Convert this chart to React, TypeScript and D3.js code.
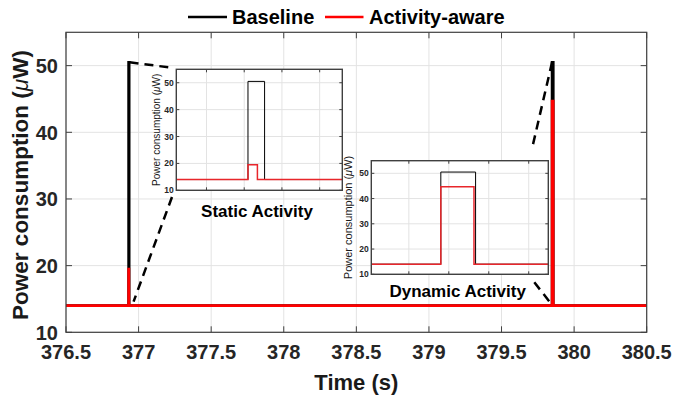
import React, { useEffect, useRef } from 'react'
import * as d3 from 'd3'

// step data (value holds until next time stamp)
const baselineTime = [376.5, 376.931, 376.9354, 379.848, 379.8567, 380.5]
const baselinePower = [14, 50.5, 14, 50.5, 14, 14]
const awareTime = [376.5, 376.931, 376.9335, 379.848, 379.8563, 380.5]
const awarePower = [14, 19.5, 14, 44.7, 14, 14]

const mainXTicks = [376.5, 377, 377.5, 378, 378.5, 379, 379.5, 380, 380.5]
const yTicks = [10, 20, 30, 40, 50]
const yDomain = [10, 55]

const staticDomain = [376.912, 376.956]
const staticTicks = [376.92, 376.93, 376.94, 376.95]
const dynamicDomain = [379.8306, 379.8749]
const dynamicTicks = [379.84, 379.85, 379.86, 379.87]

const FONT = "'Liberation Sans', Arial, Helvetica, sans-serif"
const AXIS = '#404040'
const GRID = '#e3e3e3'

const drawPanel = (g, xScale, yScale, xTicks, opts) => {
    const [x0, x1] = xScale.range()
    const [y0, y1] = yScale.range() // y0 bottom, y1 top

    g.append('rect')
        .attr('x', x0).attr('y', y1)
        .attr('width', x1 - x0).attr('height', y0 - y1)
        .attr('fill', 'white')

    // grid
    g.append('g').selectAll('line.gx')
        .data(xTicks)
        .join('line')
        .attr('x1', d => xScale(d)).attr('x2', d => xScale(d))
        .attr('y1', y0).attr('y2', y1)
        .attr('stroke', GRID).attr('stroke-width', 1)
    g.append('g').selectAll('line.gy')
        .data(yTicks)
        .join('line')
        .attr('y1', d => yScale(d)).attr('y2', d => yScale(d))
        .attr('x1', x0).attr('x2', x1)
        .attr('stroke', GRID).attr('stroke-width', 1)

    const clipId = opts.id + '_clip'
    g.append('clipPath').attr('id', clipId)
        .append('rect')
        .attr('x', x0).attr('y', y1)
        .attr('width', x1 - x0).attr('height', y0 - y1)

    const line = (times, values) => d3.line()
        .x(i => xScale(times[i]))
        .y(i => yScale(values[i]))
        .curve(d3.curveStepAfter)(d3.range(times.length))

    const lines = g.append('g').attr('clip-path', 'url(#' + clipId + ')')
    lines.append('path')
        .attr('d', line(baselineTime, baselinePower))
        .attr('fill', 'none').attr('stroke', 'black')
        .attr('stroke-width', opts.lineWidth)
    lines.append('path')
        .attr('d', line(awareTime, awarePower))
        .attr('fill', 'none').attr('stroke', opts.red)
        .attr('stroke-width', opts.lineWidth * opts.redScale)

    // box + inward ticks
    const tl = opts.tickLen
    const ticks = g.append('g').attr('stroke', AXIS).attr('stroke-width', 1)
    xTicks.forEach(t => {
        ticks.append('line').attr('x1', xScale(t)).attr('x2', xScale(t)).attr('y1', y0).attr('y2', y0 - tl)
        ticks.append('line').attr('x1', xScale(t)).attr('x2', xScale(t)).attr('y1', y1).attr('y2', y1 + tl)
    })
    yTicks.forEach(t => {
        ticks.append('line').attr('y1', yScale(t)).attr('y2', yScale(t)).attr('x1', x0).attr('x2', x0 + tl)
        ticks.append('line').attr('y1', yScale(t)).attr('y2', yScale(t)).attr('x1', x1).attr('x2', x1 - tl)
    })
    g.append('rect')
        .attr('x', x0).attr('y', y1)
        .attr('width', x1 - x0).attr('height', y0 - y1)
        .attr('fill', 'none').attr('stroke', AXIS).attr('stroke-width', opts.boxWidth)

    // y tick labels
    g.append('g').selectAll('text')
        .data(yTicks)
        .join('text')
        .attr('x', x0 - opts.yLabelGap)
        .attr('y', d => yScale(d))
        .attr('dy', '0.36em')
        .attr('text-anchor', 'end')
        .attr('font-family', FONT)
        .attr('font-weight', 'bold')
        .attr('font-size', opts.tickFont)
        .attr('fill', '#262626')
        .text(d => d)
}

const addYTitle = (g, x, y, size, weight) => {
    const t = g.append('text')
        .attr('transform', 'translate(' + x + ',' + y + ') rotate(-90)')
        .attr('text-anchor', 'middle')
        .attr('font-family', FONT)
        .attr('font-weight', weight)
        .attr('font-size', size)
        .attr('fill', '#1a1a1a')
    t.append('tspan').text('Power consumption (')
    t.append('tspan').attr('font-style', 'italic').attr('font-weight', 'normal').text('\u03bc')
    t.append('tspan').text('W)')
}

const App = () => {
    const ref = useRef(null)
    const width = 674
    const height = 396

    useEffect(() => {
        document.body.style.margin = '0'
        const svg = d3.select(ref.current)
        svg.selectAll('*').remove()

        const xMain = d3.scaleLinear().domain([376.5, 380.5]).range([66, 646.7])
        const yMain = d3.scaleLinear().domain(yDomain).range([332.3, 32.3])

        const main = svg.append('g')
        drawPanel(main, xMain, yMain, mainXTicks, {
            id: 'main', lineWidth: 2.6, redScale: 1, red: '#ff0000', tickLen: 6, boxWidth: 1.2, yLabelGap: 8, tickFont: 20
        })

        main.append('g').selectAll('text')
            .data(mainXTicks)
            .join('text')
            .attr('x', d => xMain(d))
            .attr('y', 359)
            .attr('text-anchor', 'middle')
            .attr('font-family', FONT)
            .attr('font-weight', 'bold')
            .attr('font-size', 20)
            .attr('fill', '#262626')
            .text(d => d)

        main.append('text')
            .attr('x', (66 + 646.7) / 2)
            .attr('y', 390)
            .attr('text-anchor', 'middle')
            .attr('font-family', FONT)
            .attr('font-weight', 'bold')
            .attr('font-size', 22)
            .attr('fill', '#1a1a1a')
            .text('Time (s)')
        addYTitle(main, 28, 185, 22.5, 'bold')

        // insets
        const xStatic = d3.scaleLinear().domain(staticDomain).range([176.3, 342.3])
        const yStatic = d3.scaleLinear().domain(yDomain).range([190.3, 69.3])
        const xDyn = d3.scaleLinear().domain(dynamicDomain).range([371.3, 548.3])
        const yDyn = d3.scaleLinear().domain(yDomain).range([274.3, 160.7])

        // dashed zoom lines
        const dash = svg.append('g')
            .attr('stroke', 'black').attr('stroke-width', 2.5)
            .attr('stroke-dasharray', '9,6').attr('fill', 'none')
        const spike1 = xMain(baselineTime[1])
        const spike2 = xMain(baselineTime[3])
        dash.append('line').attr('x1', spike1 + 1).attr('y1', yMain(50.5)).attr('x2', 174).attr('y2', 68)
        dash.append('line').attr('x1', 172).attr('y1', 197).attr('x2', spike1 + 5).attr('y2', yMain(14) - 4)
        dash.append('line').attr('x1', spike2).attr('y1', yMain(50.5)).attr('x2', 531.7).attr('y2', 150)
        dash.append('line').attr('x1', 534.3).attr('y1', 282.3).attr('x2', spike2 - 1).attr('y2', yMain(14) - 2)

        const inset1 = svg.append('g')
        drawPanel(inset1, xStatic, yStatic, staticTicks, {
            id: 'static', lineWidth: 1, redScale: 1.5, red: '#e8262b', tickLen: 3, boxWidth: 1.4, yLabelGap: 2.5, tickFont: 8.5
        })
        addYTitle(inset1, 159.5, (69.3 + 190.3) / 2, 10, 'normal')
        inset1.append('text')
            .attr('x', 257).attr('y', 216.5)
            .attr('text-anchor', 'middle')
            .attr('font-family', FONT).attr('font-weight', 'bold').attr('font-size', 17)
            .attr('fill', 'black')
            .text('Static Activity')

        const inset2 = svg.append('g')
        drawPanel(inset2, xDyn, yDyn, dynamicTicks, {
            id: 'dynamic', lineWidth: 1, redScale: 1.5, red: '#e8262b', tickLen: 3, boxWidth: 1.4, yLabelGap: 2.5, tickFont: 8.5
        })
        addYTitle(inset2, 352, (160.7 + 274.3) / 2, 11, 'normal')
        inset2.append('text')
            .attr('x', 457.7).attr('y', 297.3)
            .attr('text-anchor', 'middle')
            .attr('font-family', FONT).attr('font-weight', 'bold').attr('font-size', 17)
            .attr('fill', 'black')
            .text('Dynamic Activity')

        // legend
        const legend = svg.append('g').attr('font-family', FONT).attr('font-weight', 'bold').attr('font-size', 20)
        legend.append('line').attr('x1', 188).attr('x2', 227).attr('y1', 17).attr('y2', 17)
            .attr('stroke', 'black').attr('stroke-width', 2.6)
        legend.append('text').attr('x', 232).attr('y', 24).text('Baseline')
        legend.append('line').attr('x1', 325).attr('x2', 363.5).attr('y1', 17).attr('y2', 17)
            .attr('stroke', '#ff0000').attr('stroke-width', 2.6)
        legend.append('text').attr('x', 369).attr('y', 24).text('Activity-aware')
    }, [])

    return (
        <div>
            <svg ref={ref} width={width} height={height} style={{ display: 'block', background: 'white' }}></svg>
        </div>
    )
}

export default App
